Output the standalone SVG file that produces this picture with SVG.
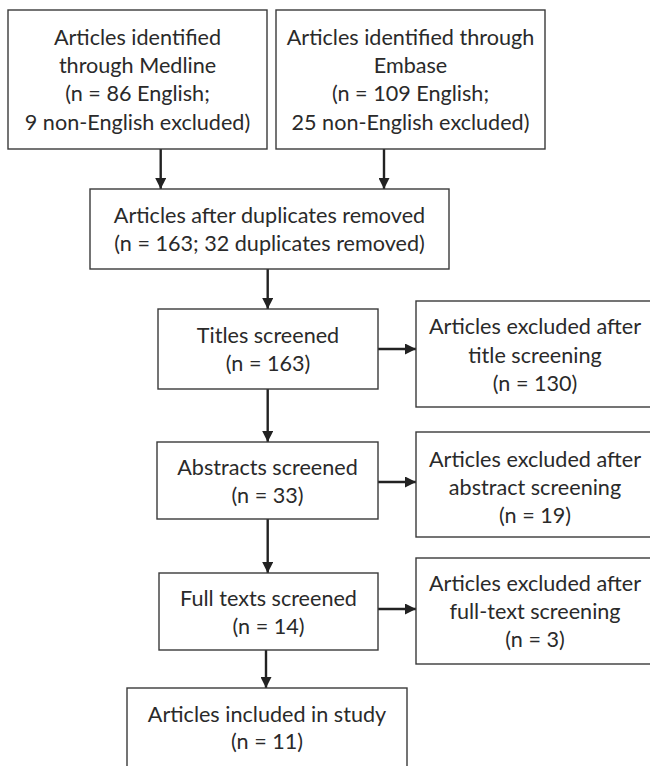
<svg xmlns="http://www.w3.org/2000/svg" width="650" height="766" viewBox="0 0 650 766">
<defs>
<style>
.box{fill:#fff;stroke:#3a3a3a;stroke-width:1.4}
.t{font-family:Lato,"Open Sans","Liberation Sans",sans-serif;font-size:21.6px;fill:#2a2a2a;text-anchor:middle}
.c{stroke:#222;stroke-width:2.4;fill:none}
</style>
<marker id="ah" viewBox="0 0 10 10" refX="10" refY="5" markerWidth="15" markerHeight="11" markerUnits="userSpaceOnUse" orient="auto">
<path d="M0,0 L10,5 L0,10 Z" fill="#222"/>
</marker>
</defs>
<rect width="650" height="766" fill="#fff"/>
<g id="connectors">
<line class="c" x1="160.7" y1="149" x2="160.7" y2="189" marker-end="url(#ah)"/>
<line class="c" x1="384" y1="149" x2="384" y2="189" marker-end="url(#ah)"/>
<line class="c" x1="267.7" y1="269" x2="267.7" y2="309" marker-end="url(#ah)"/>
<line class="c" x1="378" y1="349" x2="416" y2="349" marker-end="url(#ah)"/>
<line class="c" x1="267.7" y1="389" x2="267.7" y2="442" marker-end="url(#ah)"/>
<line class="c" x1="378" y1="482" x2="416" y2="482" marker-end="url(#ah)"/>
<line class="c" x1="267.7" y1="519" x2="267.7" y2="573" marker-end="url(#ah)"/>
<line class="c" x1="378" y1="609" x2="416" y2="609" marker-end="url(#ah)"/>
<line class="c" x1="266" y1="650" x2="266" y2="688" marker-end="url(#ah)"/>
</g>
<g id="medline">
<rect class="box" x="8" y="10" width="259" height="139"/>
<text class="t" x="137.5" y="45">Articles identified</text>
<text class="t" x="137.5" y="73">through Medline</text>
<text class="t" x="137.5" y="101">(n = 86 English;</text>
<text class="t" x="137.5" y="129.5">9 non-English excluded)</text>
</g>
<g id="embase">
<rect class="box" x="276" y="10" width="269" height="139"/>
<text class="t" x="410.5" y="45">Articles identified through</text>
<text class="t" x="410.5" y="73">Embase</text>
<text class="t" x="410.5" y="101">(n = 109 English;</text>
<text class="t" x="410.5" y="129.5">25 non-English excluded)</text>
</g>
<g id="duplicates">
<rect class="box" x="90" y="189" width="359" height="80"/>
<text class="t" x="269.5" y="223.3">Articles after duplicates removed</text>
<text class="t" x="269.5" y="251">(n = 163; 32 duplicates removed)</text>
</g>
<g id="titles">
<rect class="box" x="158" y="309" width="220" height="80"/>
<text class="t" x="268" y="343">Titles screened</text>
<text class="t" x="268" y="371">(n = 163)</text>
</g>
<g id="excl-title">
<rect class="box" x="416" y="301" width="238" height="106"/>
<text class="t" x="535" y="334.3">Articles excluded after</text>
<text class="t" x="535" y="362.5">title screening</text>
<text class="t" x="535" y="390.7">(n = 130)</text>
</g>
<g id="abstracts">
<rect class="box" x="157" y="442" width="221" height="77"/>
<text class="t" x="267.5" y="475">Abstracts screened</text>
<text class="t" x="267.5" y="503">(n = 33)</text>
</g>
<g id="excl-abstract">
<rect class="box" x="416" y="432" width="238" height="105"/>
<text class="t" x="535" y="466.7">Articles excluded after</text>
<text class="t" x="535" y="495">abstract screening</text>
<text class="t" x="535" y="523">(n = 19)</text>
</g>
<g id="fulltexts">
<rect class="box" x="159" y="573" width="219" height="77"/>
<text class="t" x="268.5" y="605.7">Full texts screened</text>
<text class="t" x="268.5" y="634">(n = 14)</text>
</g>
<g id="excl-fulltext">
<rect class="box" x="416" y="558" width="238" height="106"/>
<text class="t" x="535" y="591">Articles excluded after</text>
<text class="t" x="535" y="619">full-text screening</text>
<text class="t" x="535" y="647">(n = 3)</text>
</g>
<g id="included">
<rect class="box" x="127" y="688" width="280" height="100"/>
<text class="t" x="267" y="722">Articles included in study</text>
<text class="t" x="267" y="749">(n = 11)</text>
</g>
</svg>
